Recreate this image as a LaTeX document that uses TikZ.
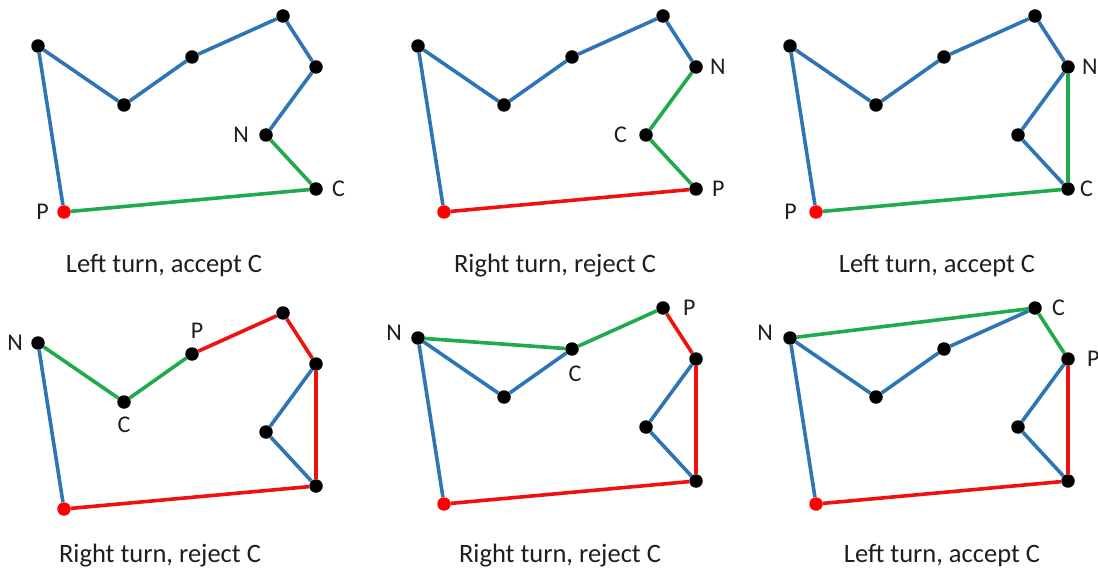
\documentclass[tikz,border=0pt]{standalone}
\usepackage{fontspec}
\setmainfont{Carlito}
\usepackage{tikz}
\usetikzlibrary{positioning}
\definecolor{TourBlue}{HTML}{2E75B6}
\definecolor{CheckGreen}{HTML}{1FAA4B}
\definecolor{DropRed}{HTML}{F01010}
\definecolor{StartRed}{HTML}{FF0000}
\definecolor{InkGray}{HTML}{1E1E1E}

\begin{document}
\begin{tikzpicture}[
  x=1pt, y=-1pt,
  dot/.style={circle,fill=black,inner sep=0pt,minimum size=13.5pt},
  start/.style={dot,fill=StartRed},
  tour/.style={line width=3.6pt,TourBlue},
  chk/.style={line width=3.6pt,CheckGreen},
  drop/.style={line width=3.6pt,DropRed},
  lbl/.style={inner sep=0pt,text=InkGray,font=\fontsize{24}{26}\selectfont},
  caption/.style={inner sep=0pt,text=InkGray,font=\fontsize{26.5}{30}\selectfont},
]
\useasboundingbox (0,0) rectangle (1098,572);

% the same eight points in every panel
\foreach \p/\dx/\dy in {a/0/0,b/380/0,c/752/0,d/0/297,e/380/292,f/752/292} {
  \begin{scope}[shift={(\dx,\dy)}]
    \foreach \i/\x/\y in {1/38/46,2/124/105,3/192/57,4/283/16,5/316/67,6/266/135,7/316/189}
      \node[dot] (\p\i) at (\x,\y) {};
    \node[start] (\p8) at (64,212) {};
  \end{scope}
}

% panel a
\draw[tour] (a8) -- (a1) -- (a2) -- (a3) -- (a4) -- (a5) -- (a6);
\draw[chk]  (a6) -- (a7) -- (a8);
\node[lbl,left=10pt of a6]  {N};
\node[lbl,right=9pt of a7]  {C};
\node[lbl,left=8pt of a8]   {P};
\node[caption] (capa) at (164,266) {Left turn, accept C};

% panel b
\draw[tour] (b8) -- (b1) -- (b2) -- (b3) -- (b4) -- (b5);
\draw[chk]  (b5) -- (b6) -- (b7);
\draw[drop] (b7) -- (b8);
\node[lbl,right=7pt of b5]  {N};
\node[lbl,left=12pt of b6]  {C};
\node[lbl,right=9pt of b7]  {P};
\node[caption] (capb) at (555,266) {Right turn, reject C};

% panel c
\draw[tour] (c8) -- (c1) -- (c2) -- (c3) -- (c4) -- (c5) -- (c6) -- (c7);
\draw[chk]  (c5) -- (c7) -- (c8);
\node[lbl,right=7pt of c5]  {N};
\node[lbl,right=5pt of c7]  {C};
\node[lbl,left=12pt of c8]  {P};
\node[caption] (capc) at (937,266) {Left turn, accept C};

% panel d
\draw[tour] (d8) -- (d1);
\draw[chk]  (d1) -- (d2) -- (d3);
\draw[drop] (d3) -- (d4) -- (d5) -- (d7) -- (d8);
\draw[tour] (d5) -- (d6) -- (d7);
\node[lbl,left=8pt of d1]                   {N};
\node[lbl,below=8pt of d2]                  {C};
\node[lbl,above=8pt of d3,xshift=5pt]       {P};
\node[caption] (capd) at (160,556) {Right turn, reject C};

% panel e
\draw[tour] (e8) -- (e1) -- (e2) -- (e3);
\draw[chk]  (e1) -- (e3) -- (e4);
\draw[drop] (e4) -- (e5) -- (e7) -- (e8);
\draw[tour] (e5) -- (e6) -- (e7);
\node[lbl,left=9pt of e1,yshift=5pt]        {N};
\node[lbl,below=10pt of e3,xshift=3pt]      {C};
\node[lbl,right=13pt of e4]                 {P};
\node[caption] (cape) at (560,556) {Right turn, reject C};

% panel f
\draw[tour] (f8) -- (f1) -- (f2) -- (f3) -- (f4);
\draw[chk]  (f1) -- (f4) -- (f5);
\draw[drop] (f5) -- (f7) -- (f8);
\draw[tour] (f5) -- (f6) -- (f7);
\node[lbl,left=10pt of f1,yshift=5pt]       {N};
\node[lbl,right=10pt of f4]                 {C};
\node[lbl,right=12pt of f5]                 {P};
\node[caption] (capf) at (942,556) {Left turn, accept C};
\end{tikzpicture}
\end{document}
